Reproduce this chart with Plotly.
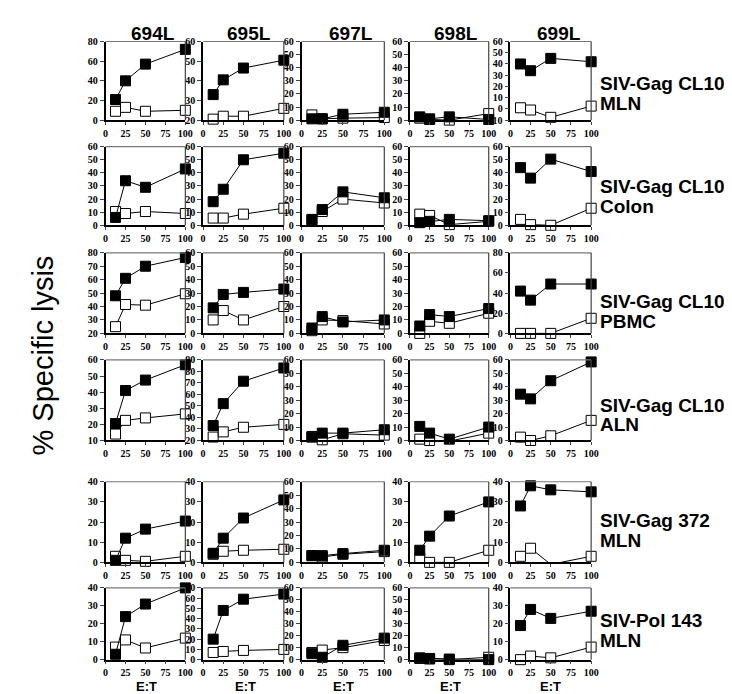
import plotly.graph_objects as go

ET = [12.5, 25, 50, 100]
x_ticks = [0, 25, 50, 75, 100]
columns = ["694L", "695L", "697L", "698L", "699L"]
row_labels = [
    ("SIV-Gag CL10", "MLN"),
    ("SIV-Gag CL10", "Colon"),
    ("SIV-Gag CL10", "PBMC"),
    ("SIV-Gag CL10", "ALN"),
    ("SIV-Gag 372", "MLN"),
    ("SIV-Pol 143", "MLN"),
]

# y-axis (min, max, step) per panel, rows x columns
y_axes = [
    [(0, 80, 20), (20, 60, 10), (0, 60, 10), (0, 60, 10), (-10, 60, 10)],
    [(0, 60, 10), (0, 60, 10), (0, 60, 10), (0, 60, 10), (0, 60, 10)],
    [(20, 80, 10), (0, 60, 10), (0, 60, 10), (0, 60, 10), (0, 80, 20)],
    [(10, 60, 10), (20, 90, 10), (0, 60, 10), (0, 60, 10), (0, 60, 10)],
    [(0, 40, 10), (0, 40, 10), (0, 60, 10), (0, 40, 10), (0, 40, 10)],
    [(0, 40, 10), (0, 70, 10), (0, 60, 10), (0, 60, 10), (0, 40, 10)],
]

# filled squares (target cells pulsed with peptide)
filled = [
    [[21, 40, 57, 72], [33, 40.5, 46.5, 50.5], [1, 1, 4.5, 6], [2.5, 1, 2.5, 0.5], [40, 34, 45, 42]],
    [[6, 34, 29, 43], [18, 27.5, 50, 55], [4.5, 12, 25.5, 21], [2, 3, 4.5, 3.5], [44, 36, 50.5, 41]],
    [[48, 61, 70, 76.5], [19, 29, 30.5, 33], [4, 12.5, 8.5, 10], [5.5, 14, 12.5, 18.5], [42, 33, 49, 49]],
    [[20.5, 41, 47.5, 57], [33, 52, 71.5, 83], [2.5, 5.5, 5.5, 8], [10.5, 5.5, 1, 10], [34.5, 31, 44.5, 58.5]],
    [[1, 12, 16.5, 20.5], [4.5, 12, 22, 31], [5, 5, 6.5, 9], [6, 13, 23, 30], [28, 38, 36, 35]],
    [[3, 24, 31, 40], [20, 48, 59, 64], [5, 2, 12, 18], [1.5, 1, 0.5, 0], [19, 28, 23, 27]],
]
# open squares (unpulsed target cells)
open_ = [
    [[9, 13, 9, 10], [20.5, 22, 22, 26], [4, 1, 1.5, 2], [1.5, 0.5, 0, 5], [1, -1, -7.5, 2.5]],
    [[10.5, 9, 10.5, 9], [5.5, 5.5, 8.5, 13], [4, 10.5, 20, 17], [8.5, 7.5, 0.5, 3], [4.5, 0.5, 0, 13]],
    [[25, 41.5, 41, 49.5], [10, 17, 10, 20], [2, 10, 9.5, 7], [0, 9, 7.5, 15], [0, 0, 0, 15]],
    [[14, 22.5, 24, 26.5], [23, 27.5, 31.5, 34], [3, 0.5, 5, 4], [1, 0, -0.5, 5.5], [2.5, 0, 3.5, 15]],
    [[3, 1, 0.5, 3], [4, 5.5, 6, 6.5], [5, 4, 6, 8], [2, 0, 0, 6], [3, 7, -1, 3]],
    [[7, 11, 6.5, 12], [7, 8, 9, 10], [6, 8, 10, 16], [1, 0.5, 0, 2], [0, 2, 1, 7]],
]

W, H = 732, 694
col_px = [(96, 177), (195, 277), (295, 379), (405, 485), (507, 589)]
row_px = [(28, 108), (135, 215), (243, 325), (352, 434), (476, 558), (584, 657)]
label_y = [(71, 91), (176, 196), (293, 313), (398, 418), (515, 536), (617, 638)]
title_x = [144, 242, 345, 452, 556]
et_x = [138, 238, 338, 446, 548]

fig = go.Figure()
layout = dict(
    width=W, height=H, margin=dict(l=0, r=0, t=0, b=0),
    paper_bgcolor="white", plot_bgcolor="white", showlegend=False,
)
shapes = []
annotations = []
tickfont = dict(family="Liberation Serif", size=10, color="black", weight="bold")

n = 0
for r in range(6):
    for c in range(5):
        n += 1
        xa = "x" if n == 1 else f"x{n}"
        ya = "y" if n == 1 else f"y{n}"
        x0, x1 = col_px[c]
        y0, y1 = row_px[r]
        lo, hi, st = y_axes[r][c]
        tv = list(range(lo, hi + 1, st))
        layout["xaxis" if n == 1 else f"xaxis{n}"] = dict(
            domain=[x0 / W, x1 / W], anchor=ya, range=[0, 100],
            tickvals=x_ticks, ticks="outside", ticklen=3, tickwidth=1,
            showline=True, linecolor="black", linewidth=1.5, showgrid=False,
            zeroline=False, tickfont=tickfont,
        )
        layout["yaxis" if n == 1 else f"yaxis{n}"] = dict(
            domain=[1 - y1 / H, 1 - y0 / H], anchor=xa, range=[lo, hi],
            tickvals=tv, ticks="outside", ticklen=4, tickwidth=1,
            showline=True, linecolor="black", linewidth=1.5, showgrid=False,
            zeroline=False, tickfont=tickfont,
        )
        shapes.append(dict(type="line", xref=f"{xa} domain", yref=f"{ya} domain",
                           x0=0, x1=1, y0=1, y1=1, line=dict(color="#777", width=1.2)))
        shapes.append(dict(type="line", xref=f"{xa} domain", yref=f"{ya} domain",
                           x0=1, x1=1, y0=0, y1=1, line=dict(color="#444", width=1.2)))
        fig.add_trace(go.Scatter(
            x=ET, y=open_[r][c], xaxis=xa, yaxis=ya, mode="lines+markers",
            line=dict(color="black", width=1), cliponaxis=False,
            marker=dict(symbol="square", size=10, color="white",
                        line=dict(color="black", width=1)),
        ))
        fig.add_trace(go.Scatter(
            x=ET, y=filled[r][c], xaxis=xa, yaxis=ya, mode="lines+markers",
            line=dict(color="black", width=1), cliponaxis=False,
            marker=dict(symbol="square", size=10, color="black",
                        line=dict(color="black", width=1)),
        ))

for c, name in enumerate(columns):
    annotations.append(dict(text=name, x=title_x[c] / W, y=1 - 20 / H, xref="paper", yref="paper",
                            showarrow=False, xanchor="center", yanchor="middle",
                            font=dict(family="Liberation Sans", size=19, color="black", weight="bold")))
    annotations.append(dict(text="E:T", x=et_x[c] / W, y=1 - 684 / H, xref="paper", yref="paper",
                            showarrow=False, xanchor="center", yanchor="middle",
                            font=dict(family="Liberation Sans", size=13, color="black", weight="bold")))

for r, (l1, l2) in enumerate(row_labels):
    for txt, yc in zip((l1, l2), label_y[r]):
        annotations.append(dict(text=txt, x=596 / W, y=1 - yc / H, xref="paper", yref="paper",
                                showarrow=False, xanchor="left", yanchor="middle", align="left",
                                font=dict(family="Liberation Sans", size=19, color="black", weight="bold")))

annotations.append(dict(text="% Specific lysis", x=32 / W, y=1 - 348 / H, xref="paper", yref="paper",
                        showarrow=False, textangle=-90, xanchor="center", yanchor="middle",
                        font=dict(family="Liberation Sans", size=29, color="black")))

layout["shapes"] = shapes
layout["annotations"] = annotations
fig.update_layout(**layout)
fig.write_html("out.html")
